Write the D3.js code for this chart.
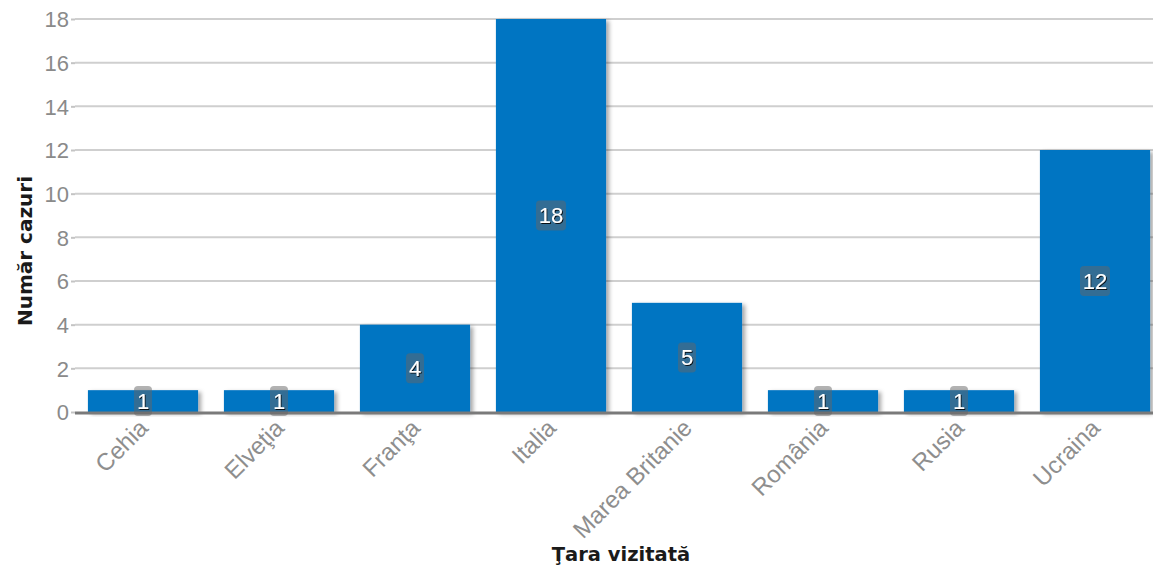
<!DOCTYPE html>
<html><head><meta charset="utf-8">
<script src="https://cdnjs.cloudflare.com/ajax/libs/d3/7.8.5/d3.min.js"></script>
<style>
html,body{margin:0;padding:0;background:#fff;}
svg{display:block;font-family:"Liberation Sans",Arial,sans-serif;}
</style></head><body>
<svg id="c" width="1153" height="570"></svg>
<script>
const categories = ["Cehia","Elveţia","Franţa","Italia","Marea Britanie","România","Rusia","Ucraina"];
const values = [1,1,4,18,5,1,1,12];
const yTicks = [0,2,4,6,8,10,12,14,16,18];
const yTitle = "Număr cazuri";
const xTitle = "Ţara vizitată";

(function(){
const svg = d3.select("#c");
const pL = 75, pR = 1163, pT = 19, pB = 412;
const x = d3.scaleBand().domain(categories).range([pL, pR]).paddingInner(0.19).paddingOuter(0.095);
const y = d3.scaleLinear().domain([0,18]).range([pB, pT]);

const defs = svg.append("defs");
const f = defs.append("filter").attr("id","sh").attr("x","-10%").attr("y","-10%").attr("width","130%").attr("height","130%");
f.append("feDropShadow").attr("dx",3).attr("dy",2).attr("stdDeviation",2).attr("flood-color","#000").attr("flood-opacity",0.35);
const f2 = defs.append("filter").attr("id","tsh");
f2.append("feDropShadow").attr("dx",1).attr("dy",1).attr("stdDeviation",0.7).attr("flood-color","#000").attr("flood-opacity",0.85);

svg.append("g").selectAll("line").data(yTicks.filter(d=>d>0)).join("line")
  .attr("x1", pL).attr("x2", 1153).attr("y1", d=>y(d)).attr("y2", d=>y(d))
  .attr("stroke","#cfcfcf").attr("stroke-width",2);

const ya = svg.append("g").attr("transform",`translate(${pL},0)`)
  .call(d3.axisLeft(y).tickValues(yTicks).tickSize(4).tickPadding(2));
ya.select(".domain").remove();
ya.selectAll(".tick line").attr("stroke","#c4c4c4").attr("stroke-width",2);
ya.selectAll(".tick text").attr("fill","#8a8a8a").attr("font-size",22).attr("dy","0.36em");

svg.append("g").selectAll("rect").data(values).join("rect")
  .attr("x",(d,i)=>x(categories[i])).attr("width",x.bandwidth())
  .attr("y",d=>y(d)).attr("height",d=>y(0)-y(d))
  .attr("fill","#0075c2").attr("filter","url(#sh)");

svg.append("line").attr("x1",pL).attr("x2",1153).attr("y1",y(0)+1).attr("y2",y(0)+1)
  .attr("stroke","#7a7a7a").attr("stroke-width",3);

const lg = svg.append("g").selectAll("g").data(values).join("g")
  .attr("transform",(d,i)=>`translate(${x(categories[i])+x.bandwidth()/2},${(y(d)+y(0))/2})`);
lg.append("rect")
  .attr("x",d=>-(String(d).length*6+3)).attr("width",d=>String(d).length*12+6)
  .attr("y",-15).attr("height",30).attr("rx",4)
  .attr("fill","#666").attr("fill-opacity",0.5);
lg.append("text").text(d=>d).attr("text-anchor","middle").attr("dy","0.36em")
  .attr("fill","#fff").attr("font-size",22).attr("filter","url(#tsh)");

svg.append("g").selectAll("text").data(categories).join("text")
  .attr("transform",d=>`translate(${x(d)+x.bandwidth()/2-2},${pB+9}) rotate(-45)`)
  .attr("text-anchor","end").attr("dy","0.5em")
  .attr("fill","#8e8e8e").attr("font-size",24).text(d=>d);

svg.append("text").attr("transform",`translate(32,251) rotate(-90)`)
  .attr("text-anchor","middle").attr("font-family","DejaVu Sans").attr("font-weight","bold").attr("font-size",20).attr("fill","#1a1a1a").text(yTitle);
svg.append("text").attr("x",621).attr("y",561)
  .attr("text-anchor","middle").attr("font-family","DejaVu Sans").attr("font-weight","bold").attr("font-size",19.5).attr("fill","#1a1a1a").text(xTitle);
})();
</script>
</body></html>
